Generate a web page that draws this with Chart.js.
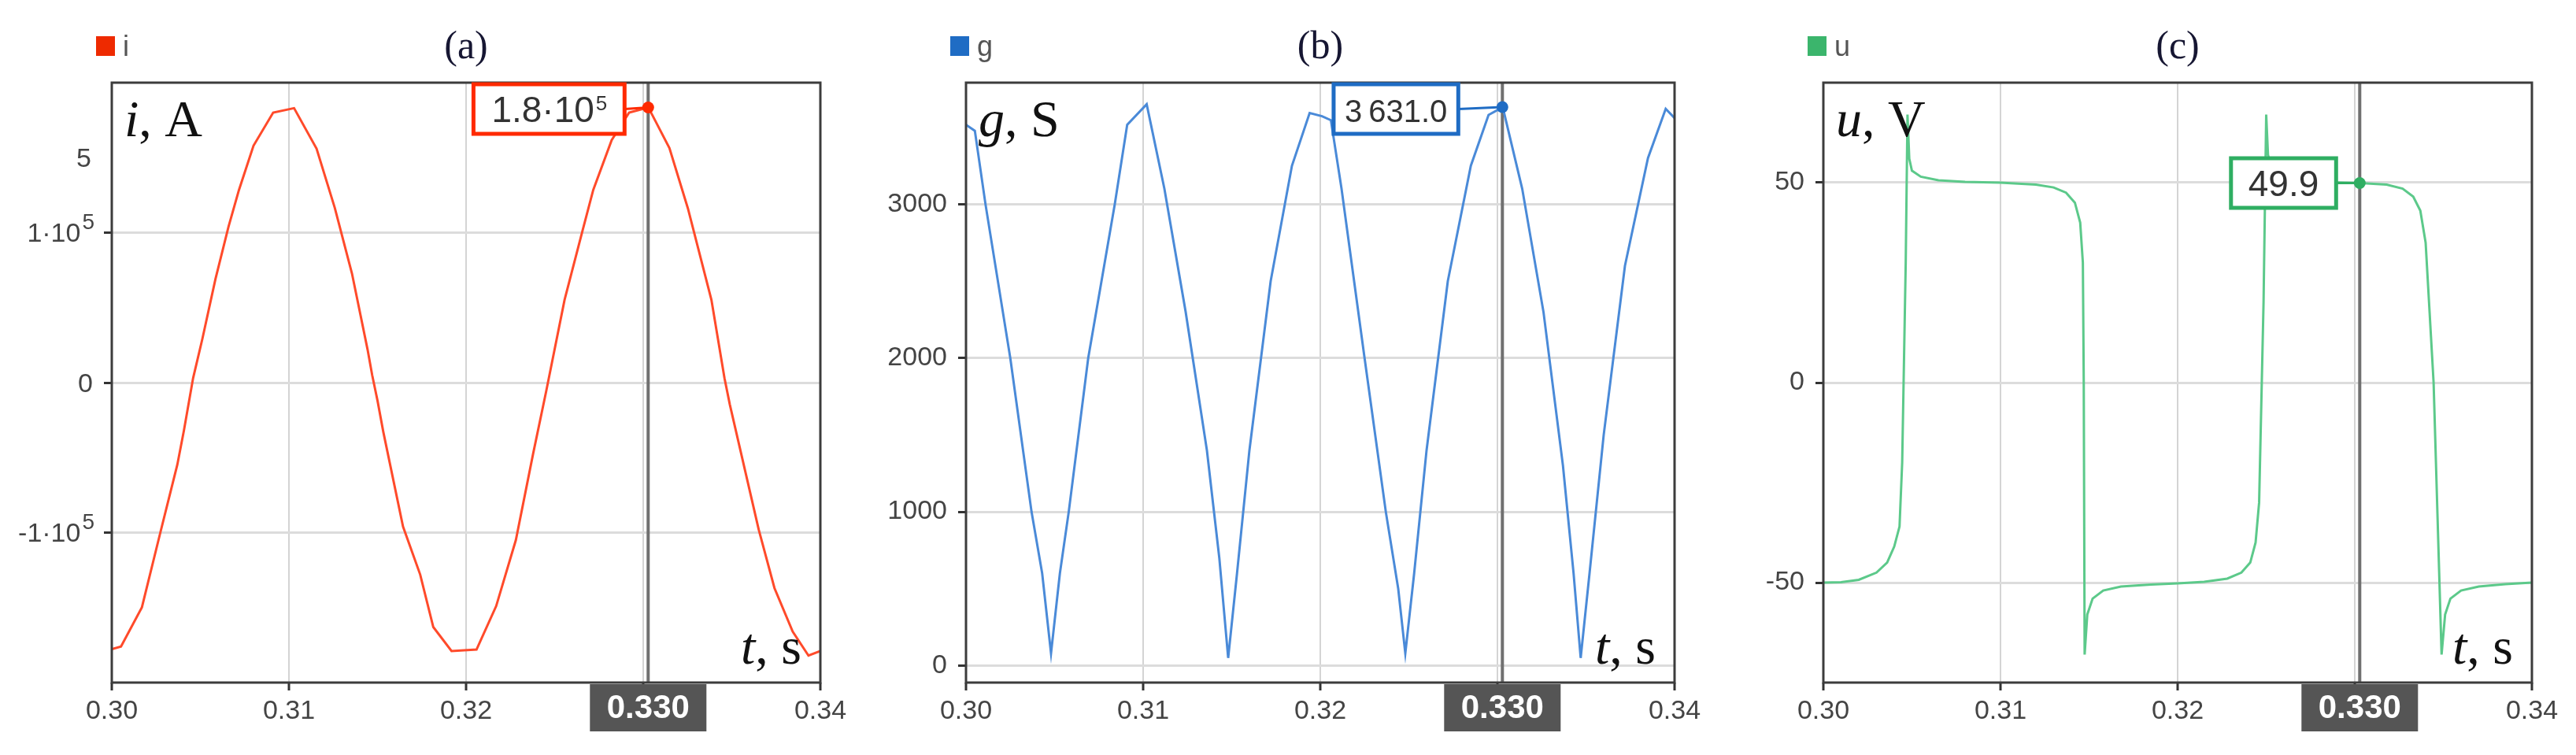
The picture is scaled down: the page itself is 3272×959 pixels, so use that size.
<!DOCTYPE html>
<html lang="en">
<head>
<meta charset="UTF-8">
<title>i, g, u waveforms</title>
<script src="https://cdn.jsdelivr.net/npm/chart.js"></script>
<style>
  html, body { margin: 0; padding: 0; background: #fff; }
  body { width: 3272px; height: 959px; position: relative; overflow: hidden; }
  .panel { position: absolute; top: 0; height: 959px; }
  #panelA { left: 0; width: 1090px; }
  #panelB { left: 1090px; width: 1090px; }
  #panelC { left: 2180px; width: 1092px; }
</style>
</head>
<body>
<div class="panel" id="panelA"><canvas id="chartA"></canvas></div>
<div class="panel" id="panelB"><canvas id="chartB"></canvas></div>
<div class="panel" id="panelC"><canvas id="chartC"></canvas></div>

<script>
// (a) current i, A
const tA = [0.30000, 0.30052, 0.30170, 0.30274, 0.30370, 0.30407, 0.30459, 0.30511, 0.30585, 0.30659,
            0.30718, 0.30800, 0.30911, 0.31029, 0.31156, 0.31259, 0.31356, 0.31444, 0.31470, 0.31500,
            0.31533, 0.31644, 0.31741, 0.31815, 0.31918, 0.32059, 0.32170, 0.32281, 0.32378, 0.32452,
            0.32556, 0.32659, 0.32718, 0.32822, 0.32920, 0.33029, 0.33148, 0.33252, 0.33385, 0.33459,
            0.33489, 0.33652, 0.33741, 0.33844, 0.33933, 0.34000];
const iA = [-177700, -176000, -149800, -100000, -54700, -32000, 3000, 29000, 69000, 104000,
            128500, 158000, 180000, 183000, 156000, 116500, 72700, 22000, 5000, -12000,
            -33000, -96000, -128000, -163000, -179000, -178000, -149000, -105000, -47700, -5900,
            55200, 102000, 128500, 161700, 180000, 183500, 156400, 116300, 55200, 2900,
            -14600, -98000, -137000, -166000, -182000, -179000];

// (b) conductance g, S
const tB = [0.3000, 0.3005, 0.3011, 0.3025, 0.3037, 0.3043, 0.3048, 0.3053, 0.3058, 0.3069,
            0.3084, 0.3091, 0.3102, 0.3112, 0.3124, 0.3136, 0.3143, 0.3148, 0.3153, 0.3160,
            0.3172, 0.3184, 0.3194, 0.3201, 0.3206, 0.3212, 0.3225, 0.3237, 0.3244,
            0.3248, 0.3253, 0.3260, 0.3272, 0.3285, 0.3295, 0.3303, 0.3314, 0.3326, 0.3337,
            0.3343, 0.3347, 0.3352, 0.3360, 0.3372, 0.3385, 0.3395, 0.3400];
const gB = [3516, 3477, 3000, 2000, 1000, 600, 80, 600, 1000, 2000,
            3000, 3516, 3650, 3100, 2300, 1400, 700, 50, 600, 1400,
            2500, 3250, 3593, 3572, 3546, 3100, 2000, 1000, 500,
            80, 600, 1400, 2500, 3250, 3580, 3631, 3100, 2300, 1300,
            600, 50, 600, 1500, 2600, 3300, 3620, 3560];

// (c) voltage u, V
const tC = [0.3000, 0.3010, 0.3020, 0.3030, 0.3036, 0.3040, 0.3043, 0.30445, 0.30465, 0.30475,
            0.30485, 0.3050, 0.3055, 0.3065, 0.3080, 0.3100, 0.3120, 0.3130, 0.3137, 0.3142,
            0.3145, 0.31465, 0.3147, 0.31475, 0.3149, 0.3152, 0.3158, 0.3168, 0.3185, 0.3200,
            0.3215, 0.3228, 0.3236, 0.3241, 0.3244, 0.3246, 0.32485, 0.3250, 0.3251, 0.3253,
            0.3258, 0.3268, 0.3285, 0.3303, 0.3318, 0.3327, 0.3333, 0.3337, 0.3340, 0.33445,
            0.3349, 0.3351, 0.3354, 0.3360, 0.3370, 0.3385, 0.3400];
const uC = [-50.0, -49.9, -49.3, -47.5, -45, -41, -36, -20, 30, 67,
            56, 53, 51.5, 50.6, 50.2, 50.0, 49.5, 48.8, 47.5, 45,
            40, 30, 0, -68, -58, -54, -52, -51, -50.5, -50.2,
            -49.8, -49, -47.5, -45, -40, -30, 20, 67, 57, 53,
            51.5, 50.6, 50.1, 49.9, 49.5, 48.5, 46.5, 43, 35, 0,
            -68, -58, -54, -52, -51, -50.4, -50.0];

const xTicks = [0.30, 0.31, 0.32, 0.33, 0.34];
const iTicks = [-100000, 0, 100000];
const gTicks = [0, 1000, 2000, 3000];
const uTicks = [-50, 0, 50];
const cursorT = 0.33028;

const SANS = '"Liberation Sans", Arial, sans-serif';
const SERIF = '"Liberation Serif", "Times New Roman", serif';

// draws "mantissa" + raised exponent, right-aligned at xr
function sciText(ctx, m, e, xr, base, size, eSize, eRaise) {
  ctx.textAlign = 'left';
  ctx.textBaseline = 'alphabetic';
  ctx.font = eSize + 'px ' + SANS;
  const ew = e ? ctx.measureText(e).width : 0;
  ctx.font = size + 'px ' + SANS;
  const mw = ctx.measureText(m).width;
  const gap = e ? 2 : 0;
  const x0 = xr - ew - gap - mw;
  ctx.fillText(m, x0, base);
  if (e) {
    ctx.font = eSize + 'px ' + SANS;
    ctx.fillText(e, x0 + mw + gap, base - eRaise);
  }
  return mw + gap + ew;
}

function axisName(ctx, parts, x, base, align) {
  ctx.textBaseline = 'alphabetic';
  ctx.textAlign = 'left';
  ctx.font = 'italic 66px ' + SERIF;
  const w1 = ctx.measureText(parts[0]).width;
  ctx.font = '66px ' + SERIF;
  const w2 = ctx.measureText(parts[1]).width;
  const x0 = align === 'right' ? x - w1 - w2 : x;
  ctx.fillStyle = '#111';
  ctx.font = 'italic 66px ' + SERIF;
  ctx.fillText(parts[0], x0, base);
  ctx.font = '66px ' + SERIF;
  ctx.fillText(parts[1], x0 + w1, base);
}

const panelDecor = {
  id: 'panelDecor',
  beforeDatasetsDraw(chart, args, o) {
    const { ctx, chartArea: a, scales: { x } } = chart;
    const cx = x.getPixelForValue(cursorT);
    ctx.save();
    ctx.strokeStyle = '#707070';
    ctx.lineWidth = 4;
    ctx.beginPath();
    ctx.moveTo(cx, a.top);
    ctx.lineTo(cx, a.bottom);
    ctx.stroke();
    ctx.restore();
  },
  afterDraw(chart, args, o) {
    const { ctx, chartArea: a, scales: { x, y } } = chart;
    ctx.save();

    // frame
    ctx.strokeStyle = '#3c3c3c';
    ctx.lineWidth = 3;
    ctx.strokeRect(a.left, a.top, a.right - a.left, a.bottom - a.top);

    // legend + title
    ctx.fillStyle = o.legendColor;
    ctx.fillRect(a.left - 20, 46, 24, 25);
    ctx.fillStyle = '#555';
    ctx.font = '36px ' + SANS;
    ctx.textAlign = 'left';
    ctx.textBaseline = 'alphabetic';
    ctx.fillText(o.name, a.left + 14, 71);
    ctx.fillStyle = '#161632';
    ctx.font = '50px ' + SERIF;
    ctx.textAlign = 'center';
    ctx.fillText(o.title, (a.left + a.right) / 2, 74);

    // axis names
    axisName(ctx, o.yName, a.left + 16, a.top + 68, 'left');
    axisName(ctx, ['t', ', s'], a.right - 24, a.bottom - 24, 'right');

    // scientific y labels (panel a)
    if (o.sciTicks) {
      ctx.fillStyle = '#444';
      y.ticks.forEach(t => {
        const py = y.getPixelForValue(t.value);
        if (t.value === 0) {
          sciText(ctx, '0', '', a.left - 24, py + 12, 34, 28, 0);
        } else {
          sciText(ctx, (t.value < 0 ? '-' : '') + '1·10', '5', a.left - 22, py + 11, 34, 28, 16);
        }
      });
      sciText(ctx, '5', '', a.left - 26, y.getPixelForValue(150000) + 12, 34, 28, 0);
    }

    // cursor value on the x axis
    const cx = x.getPixelForValue(cursorT);
    ctx.fillStyle = '#555';
    ctx.fillRect(cx - 74, a.bottom + 2, 148, 60);
    ctx.fillStyle = '#fff';
    ctx.font = 'bold 42px ' + SANS;
    ctx.textAlign = 'center';
    ctx.textBaseline = 'middle';
    ctx.fillText(cursorT.toFixed(3), cx, a.bottom + 33);

    // marker + value box
    const my = y.getPixelForValue(o.value);
    ctx.font = o.boxSize + 'px ' + SANS;
    const mw = ctx.measureText(o.boxText[0]).width;
    ctx.font = '26px ' + SANS;
    const ew = o.boxText[1] ? ctx.measureText(o.boxText[1]).width + 3 : 0;
    const bw = mw + ew + 2 * o.boxPad, bh = 63;
    const bx = cx - o.boxGap - bw;
    let by = my - bh / 2;
    if (by < a.top + 2) by = a.top + 2;
    ctx.strokeStyle = o.boxColor;
    ctx.lineWidth = 3;
    ctx.beginPath();
    ctx.moveTo(bx + bw, by + bh / 2);
    ctx.lineTo(cx, my);
    ctx.stroke();
    ctx.fillStyle = '#fff';
    ctx.fillRect(bx, by, bw, bh);
    ctx.lineWidth = 5;
    ctx.strokeRect(bx, by, bw, bh);
    ctx.fillStyle = o.boxColor;
    ctx.beginPath();
    ctx.arc(cx, my, 7.5, 0, Math.PI * 2);
    ctx.fill();
    ctx.fillStyle = '#333';
    sciText(ctx, o.boxText[0], o.boxText[1], bx + bw - o.boxPad, by + bh / 2 + 16, o.boxSize, 26, 15);

    ctx.restore();
  }
};

function makeChart(id, cfg) {
  const pts = cfg.t.map((t, k) => ({ x: t, y: cfg.v[k] }));
  return new Chart(document.getElementById(id), {
    type: 'line',
    data: {
      datasets: [{
        data: pts,
        borderColor: cfg.color,
        borderWidth: 3,
        pointRadius: 0,
        tension: 0,
        fill: false
      }]
    },
    plugins: [panelDecor],
    options: {
      responsive: true,
      maintainAspectRatio: false,
      animation: false,
      devicePixelRatio: 1,
      layout: { padding: { left: 0, right: cfg.padRight, top: 105, bottom: 0 } },
      plugins: {
        legend: { display: false },
        tooltip: { enabled: false },
        panelDecor: {
          legendColor: cfg.legendColor,
          boxColor: cfg.boxColor,
          name: cfg.name,
          title: cfg.title,
          yName: cfg.yName,
          value: cfg.value,
          boxText: cfg.boxText,
          boxSize: cfg.boxSize,
          boxPad: cfg.boxPad,
          boxGap: cfg.boxGap,
          sciTicks: cfg.sciTicks
        }
      },
      scales: {
        x: {
          type: 'linear',
          min: 0.30,
          max: 0.34,
          afterBuildTicks: s => { s.ticks = xTicks.map(v => ({ value: v })); },
          afterFit: s => { s.height = 92; },
          grid: { color: '#d4d4d4', lineWidth: 2, tickLength: 10, tickColor: '#333', tickWidth: 3 },
          border: { display: false },
          ticks: {
            color: '#444',
            padding: 6,
            maxRotation: 0,
            font: { family: SANS, size: 34 },
            callback: v => Math.abs(v - 0.33) < 1e-9 ? '' : v.toFixed(2)
          }
        },
        y: {
          type: 'linear',
          min: cfg.yMin,
          max: cfg.yMax,
          afterBuildTicks: s => { s.ticks = cfg.yTicks.map(v => ({ value: v })); },
          afterFit: s => { s.width = cfg.yWidth; },
          grid: { color: '#dcdcdc', lineWidth: 3, tickLength: 10, tickColor: '#333', tickWidth: 3 },
          border: { display: false },
          ticks: {
            color: '#444',
            padding: 14,
            font: { family: SANS, size: 34 },
            callback: v => cfg.sciTicks ? '' : String(v)
          }
        }
      }
    }
  });
}

makeChart('chartA', {
  t: tA, v: iA, color: '#ff4a2a', legendColor: '#ee2a00', boxColor: '#ff2a00',
  name: 'i', title: '(a)', yName: ['i', ', A'],
  yMin: -200000, yMax: 200000, yTicks: iTicks, yWidth: 142, padRight: 48,
  value: 183500, boxText: ['1.8·10', '5'], boxSize: 46, boxPad: 22, boxGap: 30, sciTicks: true
});
makeChart('chartB', {
  t: tB, v: gB, color: '#4a8ad8', legendColor: '#1f6cc4', boxColor: '#1f6cc4',
  name: 'g', title: '(b)', yName: ['g', ', S'],
  yMin: -110, yMax: 3790, yTicks: gTicks, yWidth: 137, padRight: 53,
  value: 3631, boxText: ['3\u2009631.0', ''], boxSize: 40, boxPad: 14, boxGap: 56, sciTicks: false
});
makeChart('chartC', {
  t: tC, v: uC, color: '#5cc98a', legendColor: '#3bb56c', boxColor: '#2fae62',
  name: 'u', title: '(c)', yName: ['u', ', V'],
  yMin: -75, yMax: 75, yTicks: uTicks, yWidth: 136, padRight: 56,
  value: 49.9, boxText: ['49.9', ''], boxSize: 46, boxPad: 22, boxGap: 30, sciTicks: false
});
</script>
</body>
</html>
